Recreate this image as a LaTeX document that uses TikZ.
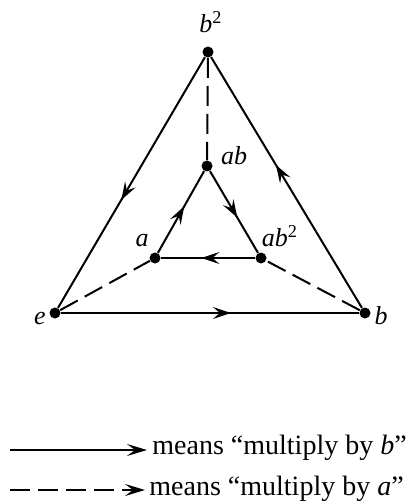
\documentclass[tikz,border=0pt]{standalone}
\usepackage{fontspec}
\setmainfont{Liberation Serif}
\usetikzlibrary{arrows.meta,decorations.markings}
\begin{document}
\begin{tikzpicture}[x=0.5pt,y=-0.5pt,
  dot/.style={circle,fill,inner sep=0pt,minimum size=5.5pt},
  lbl/.style={font=\fontsize{13}{15}\selectfont\itshape},
  edge/.style={line width=1pt},
  midarrow/.style={postaction={decorate},decoration={markings,mark=at position 0.57 with {\arrow{Stealth[length=9pt,width=6pt,inset=3.5pt]}}}},
  dashedge/.style={line width=1pt,dash pattern=on 10pt off 4pt},
  legtext/.style={anchor=west,font=\fontsize{14}{16}\selectfont,inner sep=0pt}]
\useasboundingbox (0,0) rectangle (417,502);
% vertices
\node[dot] (b2) at (208,52) {};
\node[dot] (ab) at (207,166) {};
\node[dot] (a) at (155,258) {};
\node[dot] (ab2) at (261,258) {};
\node[dot] (e) at (55,313) {};
\node[dot] (b) at (365,313) {};
% labels
\node[lbl] (Lb2) at (211,22) {b\textsuperscript{\upshape 2}};
\node[lbl,anchor=west] (Lab) at (214,156) {ab};
\node[lbl] (La) at (142,241) {a};
\node[lbl] (Lab2) at (280,236) {ab\textsuperscript{\upshape 2}};
\node[lbl] (Le) at (40,318) {e};
\node[lbl] (Lb) at (381,316) {b};
% solid edges (multiply by b)
\draw[edge,midarrow] (e) -- (b);
\draw[edge,midarrow] (b) -- (b2);
\draw[edge,midarrow] (b2) -- (e);
\draw[edge,midarrow] (a) -- (ab);
\draw[edge,midarrow] (ab) -- (ab2);
\draw[edge,midarrow] (ab2) -- (a);
% dashed edges (multiply by a)
\draw[dashedge] (b2) -- (ab);
\draw[dashedge] (e) -- (a);
\draw[dashedge] (b) -- (ab2);
% legend
\coordinate (l1s) at (10,450);
\coordinate (l1e) at (147,450);
\coordinate (l2s) at (10,490);
\coordinate (l2e) at (145,490);
\draw[edge,-{Stealth[length=10pt,width=6pt,inset=4pt]}] (l1s) -- (l1e);
\draw[dashedge,-{Stealth[length=10pt,width=6pt,inset=4pt]}] (l2s) -- (l2e);
\node[legtext] (t1) at (152,448) {means “multiply by \textit{b}”};
\node[legtext] (t2) at (149,489) {means “multiply by \textit{a}”};
\end{tikzpicture}
\end{document}
